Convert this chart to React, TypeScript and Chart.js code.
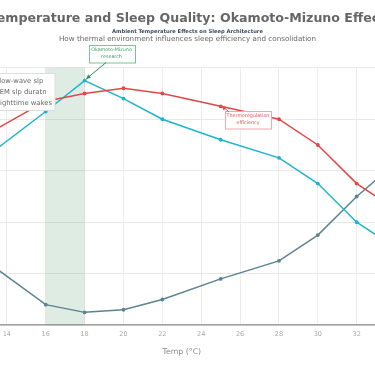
import React, { useEffect, useRef } from "react";
import { Chart, registerables } from "chart.js";

Chart.register(...registerables);

const temps = [12, 16, 18, 20, 22, 25, 28, 30, 32, 34];
const slowWave = [70, 87, 90, 92, 90, 85, 80, 70, 55, 45];
const remDuration = [60, 83, 95, 88, 80, 72, 65, 55, 40, 30];
const nightWakes = [30, 8, 5, 6, 10, 18, 25, 35, 50, 63];
const seriesNames = ["Slow-wave slp", "REM slp duratn", "Nighttime wakes"];
const seriesColors = ["#e04848", "#1fb4cd", "#5b8490"];
const titleText = "Temperature and Sleep Quality: Okamoto-Mizuno Effect";
const subtitle1 = "Ambient Temperature Effects on Sleep Architecture";
const subtitle2 = "How thermal environment influences sleep efficiency and consolidation";
const xTitle = "Temp (°C)";
const bandRange = [16, 18];
const note1 = ["Okamoto-Mizuno", "research"];
const note1At = { x: 18, y: 95 };
const note2 = ["Thermoregulation", "efficiency"];
const note2At = { x: 25, y: 85 };

const W = 499;
const H = 366;
const FONT = "'DejaVu Sans', sans-serif";

function arrow(ctx: CanvasRenderingContext2D, x1: number, y1: number, x2: number, y2: number, color: string) {
  ctx.save();
  ctx.strokeStyle = color;
  ctx.fillStyle = color;
  ctx.lineWidth = 1;
  ctx.beginPath();
  ctx.moveTo(x1, y1);
  ctx.lineTo(x2, y2);
  ctx.stroke();
  const a = Math.atan2(y2 - y1, x2 - x1);
  const L = 5;
  ctx.beginPath();
  ctx.moveTo(x2, y2);
  ctx.lineTo(x2 - L * Math.cos(a - 0.45), y2 - L * Math.sin(a - 0.45));
  ctx.lineTo(x2 - L * Math.cos(a + 0.45), y2 - L * Math.sin(a + 0.45));
  ctx.closePath();
  ctx.fill();
  ctx.restore();
}

function noteBox(ctx: CanvasRenderingContext2D, cx: number, top: number, w: number, h: number, lines: string[], text: string, border: string) {
  ctx.save();
  ctx.fillStyle = "rgba(255,255,255,0.95)";
  ctx.fillRect(cx - w / 2, top, w, h);
  ctx.strokeStyle = border;
  ctx.lineWidth = 1;
  ctx.strokeRect(Math.round(cx - w / 2) + 0.5, Math.round(top) + 0.5, w, h);
  ctx.fillStyle = text;
  ctx.font = `4.8px ${FONT}`;
  ctx.textAlign = "center";
  ctx.textBaseline = "middle";
  lines.forEach((l, i) => ctx.fillText(l, cx, top + h / 2 + (i - (lines.length - 1) / 2) * 7));
  ctx.restore();
}

const decor = {
  id: "decor",
  beforeDatasetsDraw(chart: any) {
    const { ctx, chartArea, scales } = chart;
    const x1 = scales.x.getPixelForValue(bandRange[0]);
    const x2 = scales.x.getPixelForValue(bandRange[1]);
    ctx.save();
    ctx.fillStyle = "rgba(95,160,115,0.2)";
    ctx.fillRect(x1, chartArea.top, x2 - x1, chartArea.bottom - chartArea.top);
    ctx.restore();
  },
  afterDraw(chart: any) {
    const { ctx, scales } = chart;
    const cx = W / 2;
    ctx.save();
    ctx.textAlign = "center";
    ctx.textBaseline = "alphabetic";
    ctx.fillStyle = "#666666";
    ctx.font = `bold 12.6px ${FONT}`;
    ctx.fillText(titleText, cx, 22.3);
    ctx.fillStyle = "#34495e";
    ctx.font = `bold 5.2px ${FONT}`;
    ctx.fillText(subtitle1, cx, 33);
    ctx.fillStyle = "#666666";
    ctx.font = `7.2px ${FONT}`;
    ctx.fillText(subtitle2, cx, 40.5);
    ctx.restore();

    // legend box
    ctx.save();
    ctx.fillStyle = "rgba(255,255,255,0.92)";
    ctx.fillRect(17, 73.5, 100, 37);
    ctx.strokeStyle = "#dddddd";
    ctx.lineWidth = 1;
    ctx.strokeRect(17.5, 73.5, 99.5, 37);
    ctx.font = `6.8px ${FONT}`;
    ctx.textBaseline = "middle";
    ctx.textAlign = "left";
    const ys = [81.7, 92.4, 103.2];
    seriesNames.forEach((n, i) => {
      ctx.fillStyle = seriesColors[i];
      ctx.fillRect(30, ys[i] - 3, 20, 6);
      ctx.fillStyle = "#666666";
      ctx.fillText(n, 57, ys[i]);
    });
    ctx.restore();

    // annotations
    const p1x = scales.x.getPixelForValue(note1At.x);
    const p1y = scales.y.getPixelForValue(note1At.y);
    noteBox(ctx, 173.5, 44.5, 46, 17.5, note1, "#3d9a62", "#7cc19a");
    arrow(ctx, 168, 62.5, p1x + 1.5, p1y - 1.5, "#2e8b57");
    const p2x = scales.x.getPixelForValue(note2At.x);
    const p2y = scales.y.getPixelForValue(note2At.y);
    noteBox(ctx, 310, 111, 46, 17.5, note2, "#e05555", "#f0a8a8");
    arrow(ctx, 291, 112, p2x + 1, p2y - 0.5, "#e04848");
  },
};

export default function App() {
  const ref = useRef<HTMLCanvasElement | null>(null);
  useEffect(() => {
    if (!ref.current) return;
    const all = [slowWave, remDuration, nightWakes];
    const chart = new Chart(ref.current, {
      type: "line",
      data: {
        datasets: all.map((vals, i) => ({
          label: seriesNames[i],
          data: temps.map((t, j) => ({ x: t, y: vals[j] })),
          borderColor: seriesColors[i],
          backgroundColor: seriesColors[i],
          borderWidth: 1.5,
          pointRadius: 1.2,
          pointHoverRadius: 2,
          tension: 0,
        })),
      },
      options: {
        responsive: false,
        animation: false,
        devicePixelRatio: 1,
        layout: { padding: { left: 30, right: 41.4, top: 67.7, bottom: 5.6 } },
        plugins: { legend: { display: false }, title: { display: false }, tooltip: { enabled: false } },
        scales: {
          x: {
            type: "linear",
            min: 12,
            max: 34,
            ticks: { stepSize: 2, color: "#a8a8a8", font: { family: FONT, size: 6.5 }, padding: 5 },
            grid: { color: "#ececec", drawTicks: false },
            border: { color: "#a0a0a0", width: 1.5 },
            title: { display: true, text: xTitle, color: "#888888", font: { family: FONT, size: 7.8 }, padding: { top: 4, bottom: 4 } },
          },
          y: {
            min: 0,
            max: 100,
            ticks: { stepSize: 20, display: false },
            grid: { color: "#e8e8e8", drawTicks: false },
            border: { display: false },
          },
        },
      },
      plugins: [decor],
    });
    return () => chart.destroy();
  }, []);
  return (
    <div style={{ position: "fixed", inset: 0, overflow: "hidden", background: "#fff" }}>
      <canvas ref={ref} width={W} height={H} style={{ position: "absolute", left: -62, top: 0, width: W, height: H }} />
    </div>
  );
}
